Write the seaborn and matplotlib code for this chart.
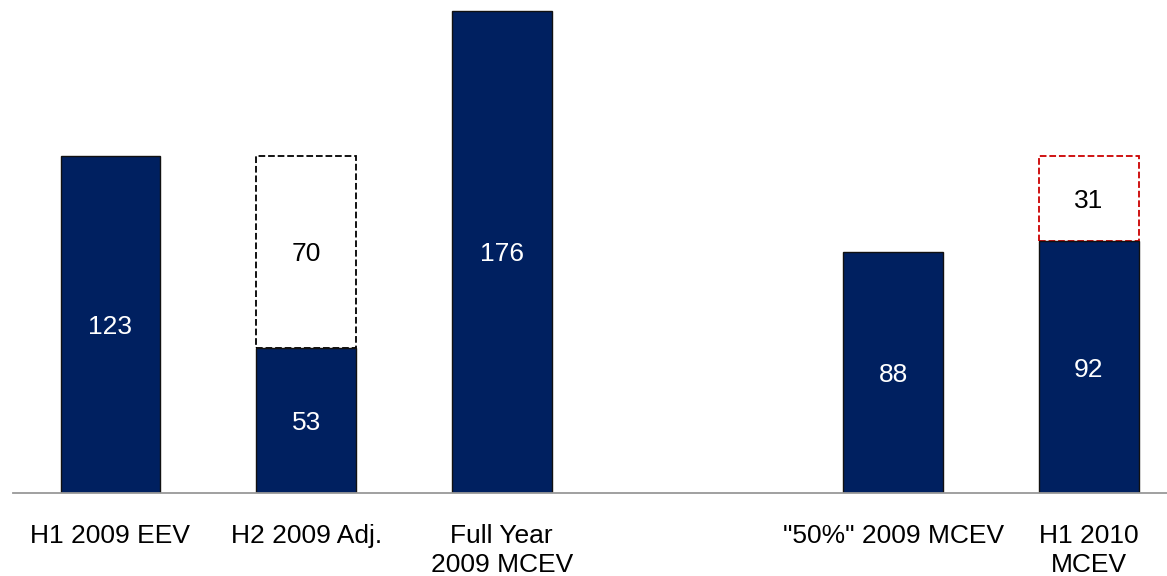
import matplotlib
matplotlib.use("Agg")
import matplotlib.pyplot as plt
import seaborn as sns
import pandas as pd
import numpy as np

categories = ["H1 2009 EEV", "H2 2009 Adj.", "Full Year\n2009 MCEV", " ",
              "\"50%\" 2009 MCEV", "H1 2010\nMCEV"]
base_values = [123, 53, 176, np.nan, 88, 92]
increments = [np.nan, 70, np.nan, np.nan, np.nan, 31]

sns.set_style("white")
plt.rcParams["font.family"] = ["Liberation Sans", "DejaVu Sans"]

NAVY = "#002060"
inc_edges = {"H2 2009 Adj.": "#000000", "H1 2010\nMCEV": "#CC0000"}

df = pd.DataFrame({"cat": categories, "base": base_values, "inc": increments})
df["total"] = df["base"] + df["inc"]

fig = plt.figure(figsize=(11.67, 5.76), dpi=100)
ax = fig.add_axes([13 / 1167, 83 / 576, 1 - 13 / 1167, 493 / 576])

df_inc = df.dropna(subset=["total"])
sns.barplot(data=df_inc, x="cat", y="inc", order=categories, color="white",
            saturation=1, width=0.51, linewidth=1.3, linestyle="--",
            edgecolor="black", ax=ax)
inc_patches = list(ax.patches)
for p, (_, row) in zip(inc_patches, df_inc.iterrows()):
    p.set_edgecolor(inc_edges[row["cat"]])
    p.set_y(row["base"])

df_base = df.dropna(subset=["base"])
sns.barplot(data=df_base, x="cat", y="base", order=categories, color=NAVY,
            saturation=1, width=0.51, linewidth=1.0, edgecolor="#111111", ax=ax)

fs = 19
for i, row in df.iterrows():
    if not np.isnan(row["base"]):
        ax.text(i, row["base"] / 2, f"{int(row['base'])}", color="white",
                ha="center", va="center_baseline", fontsize=fs)
    if not np.isnan(row["inc"]):
        ax.text(i, row["base"] + row["inc"] / 2, f"{int(row['inc'])}",
                color="black", ha="center", va="center_baseline", fontsize=fs)

ax.set_xlim(-0.498, 5.40)
ax.set_ylim(0, 180)
ax.set_yticks([])
ax.set_xlabel("")
ax.set_ylabel("")
for s in ["top", "left", "right"]:
    ax.spines[s].set_visible(False)
ax.spines["bottom"].set_color("#999999")
ax.spines["bottom"].set_linewidth(1.3)
ax.tick_params(axis="x", length=0, pad=22, labelsize=fs, labelcolor="black")
for lbl in ax.get_xticklabels():
    lbl.set_linespacing(1.3)

fig.savefig("out.png", dpi=100)
